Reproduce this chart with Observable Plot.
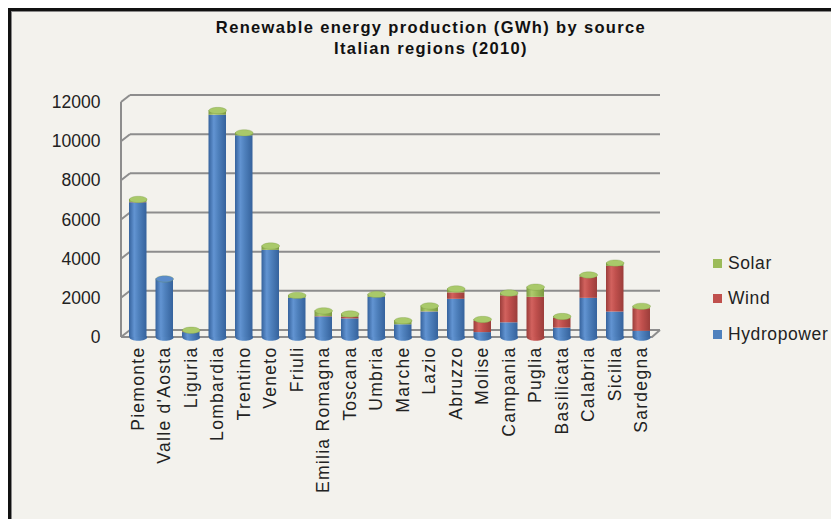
<!DOCTYPE html>
<html>
<head>
<meta charset="utf-8">
<script src="https://cdn.jsdelivr.net/npm/d3@7"></script>
<script src="https://cdn.jsdelivr.net/npm/@observablehq/plot@0.6"></script>
<style>
  html, body { margin: 0; padding: 0; background: #ffffff; overflow: hidden; width: 831px; height: 519px; }
  #frame { position: absolute; left: 8px; top: 8px; width: 860px; height: 560px; border: 3px solid #111; box-shadow: inset 1px 1px 0 #888; background: #f3f2ed; }
  .title { position: absolute; left: 0; width: 862px; text-align: center; font-family: "Liberation Sans", Arial, sans-serif; font-weight: bold; font-size: 16.5px; letter-spacing: 1.35px; color: #111; }
  #chart { position: absolute; left: 0; top: 62px; }
  #legend { position: absolute; left: 713px; top: 252.5px; font-family: "Liberation Sans", Arial, sans-serif; font-size: 17.5px; letter-spacing: 0.6px; color: #222; }
  .item { position: absolute; left: 0; white-space: nowrap; }
  .sw { display: inline-block; width: 9px; height: 9px; margin-right: 6px; vertical-align: 1px; }
</style>
</head>
<body>
<div id="frame"></div>
<div class="title" style="top:18px">Renewable energy production (GWh) by source</div>
<div class="title" style="top:39px">Italian regions (2010)</div>
<div id="chart"></div>
<div id="legend"></div>
<script>
const regions = ["Piemonte","Valle d'Aosta","Liguria","Lombardia","Trentino","Veneto","Friuli","Emilia Romagna","Toscana","Umbria","Marche","Lazio","Abruzzo","Molise","Campania","Puglia","Basilicata","Calabria","Sicilia","Sardegna"];
const sources = ["Hydropower","Wind","Solar"];
const hydro = [6880, 2990, 250, 11350, 10300, 4450, 2000, 1050, 950, 2050, 650, 1300, 1950, 250, 750, 0, 480, 2000, 1300, 320];
const wind  = [20, 0, 40, 0, 0, 0, 0, 20, 80, 0, 0, 10, 330, 570, 1380, 2050, 500, 1070, 2330, 1150];
const solar = [150, 0, 80, 240, 150, 220, 150, 290, 170, 150, 210, 300, 200, 100, 140, 520, 90, 120, 170, 120];
const yTicks = [0, 2000, 4000, 6000, 8000, 10000, 12000];
const colors = {Hydropower: "#4f81bd", Wind: "#c0504d", Solar: "#9bbb59"};
const topColors = {Hydropower: "#5b8ccb", Wind: "#cf6662", Solar: "#a9c96a"};

const series = {Hydropower: hydro, Wind: wind, Solar: solar};
const rows = [];
regions.forEach((r, i) => sources.forEach(s => rows.push({region: r, source: s, value: series[s][i]})));
const totals = regions.map((r, i) => {
  const top = solar[i] > 0 ? "Solar" : wind[i] > 0 ? "Wind" : "Hydropower";
  const bottom = hydro[i] > 0 ? "Hydropower" : wind[i] > 0 ? "Wind" : "Solar";
  return {region: r, total: hydro[i] + wind[i] + solar[i], top, bottom};
});

// elliptical symbol for cylinder caps
const RX = 8.8, RY = 3.2, K = 0.5523;
const ellipse = {
  draw(ctx) {
    ctx.moveTo(RX, 0);
    ctx.bezierCurveTo(RX, RY * K, RX * K, RY, 0, RY);
    ctx.bezierCurveTo(-RX * K, RY, -RX, RY * K, -RX, 0);
    ctx.bezierCurveTo(-RX, -RY * K, -RX * K, -RY, 0, -RY);
    ctx.bezierCurveTo(RX * K, -RY, RX, -RY * K, RX, 0);
    ctx.closePath();
  }
};

const gridColor = "#8d8d8d";
function walls(index, scales, values, dimensions) {
  const {width, marginLeft, marginRight} = dimensions;
  const y = scales.y;
  const x0 = marginLeft + 1, xb = marginLeft + 10, x1 = width - marginRight - 7, xr = width - marginRight + 1;
  const g = d3.create("svg:g").attr("fill", "none").attr("stroke", gridColor).attr("stroke-width", 2);
  for (const t of yTicks) {
    g.append("line").attr("x1", xb).attr("x2", xr).attr("y1", y(t) - 7).attr("y2", y(t) - 7);
    g.append("line").attr("x1", x0).attr("x2", xb).attr("y1", y(t)).attr("y2", y(t) - 7);
  }
  g.append("line").attr("x1", x0).attr("x2", x0).attr("y1", y(yTicks[yTicks.length - 1])).attr("y2", y(0));
  g.append("path").attr("d", `M${x0},${y(0)}L${x1},${y(0)}L${xr},${y(0) - 7}`).attr("stroke-width", 2);
  return g.node();
}

const chart = Plot.plot({
  width: 831,
  height: 457,
  marginLeft: 120,
  marginRight: 172,
  marginTop: 40,
  marginBottom: 182,
  style: {background: "transparent", fontFamily: "'Liberation Sans', Arial, sans-serif", fontSize: "17.5px", color: "#222"},
  x: {domain: regions, padding: 0.34, round: false, label: null, tickSize: 0, tickPadding: 9, tickRotate: -90},
  y: {domain: [0, 12000], label: null, ticks: yTicks, tickSize: 0, tickPadding: 20, tickFormat: d => String(d)},
  color: {domain: sources, range: ["url(#gH)", "url(#gW)", "url(#gS)"]},
  marks: [
    walls,
    Plot.dot(totals, {x: "region", y: 0, symbol: ellipse, r: 5, fill: {value: d => d.bottom, scale: "color"}}),
    Plot.barY(rows, {x: "region", y: "value", fill: "source", order: sources}),
    Plot.dot(totals, {x: "region", y: "total", symbol: ellipse, r: 5, fill: {value: d => topColors[d.top], scale: null}, stroke: "#6f8f3a", strokeOpacity: 0.35, strokeWidth: 0.8})
  ]
});

// cylinder gradients
const defs = d3.select(chart).insert("defs", ":first-child");
function grad(id, dark, mid, light) {
  const lg = defs.append("linearGradient").attr("id", id).attr("x1", 0).attr("x2", 1).attr("y1", 0).attr("y2", 0);
  [[0, dark], [0.3, light], [0.55, mid], [1, dark]].forEach(([o, c]) => lg.append("stop").attr("offset", o).attr("stop-color", c));
}
grad("gH", "#35629c", "#4f81bd", "#6294d2");
grad("gW", "#9b3d3a", "#c0504d", "#d2625e");
grad("gS", "#7c9a42", "#9bbb59", "#aecb6d");

// letter spacing on rotated x labels (wider text, as in the reference)
d3.select(chart).selectAll("text").filter(function () {
  return regions.includes(this.textContent);
}).style("letter-spacing", "1.3px");

document.getElementById("chart").appendChild(chart);

const legend = document.getElementById("legend");
["Solar", "Wind", "Hydropower"].forEach((s, i) => {
  const d = document.createElement("div");
  d.className = "item";
  d.style.top = (i * 35.5) + "px";
  d.innerHTML = `<span class="sw" style="background:${colors[s]}"></span>${s}`;
  legend.appendChild(d);
});
</script>
</body>
</html>
